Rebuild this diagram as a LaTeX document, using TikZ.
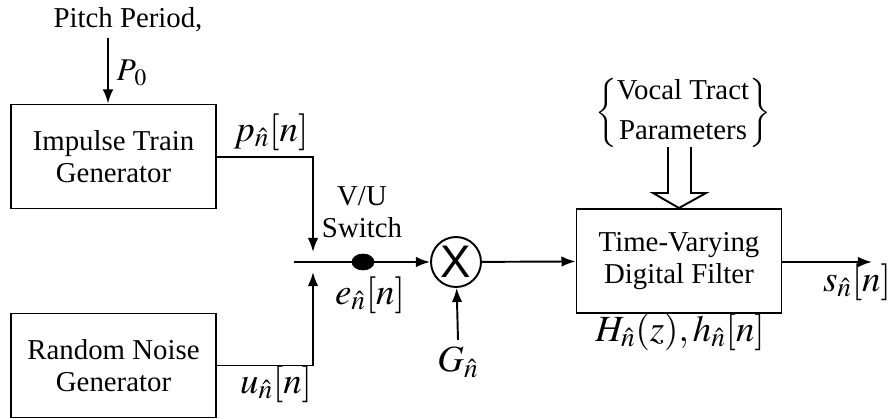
\documentclass[tikz,border=0pt]{standalone}
\usepackage{amsmath}
\usepackage{mathptmx}
\usepackage{fontspec}
\setmainfont{Liberation Serif}
\newfontfamily\sansX{Liberation Sans}
\usetikzlibrary{arrows.meta,shapes.geometric}

\begin{document}
\begin{tikzpicture}[x=0.02cm, y=-0.02cm, >={Latex[length=8pt,width=6pt]},
    every node/.style={font=\fontsize{16.4}{18}\selectfont},
    blockbox/.style={draw, line width=1.1pt, minimum width=4.1cm, minimum height=2.08cm, align=center},
    mathlbl/.style={font=\fontsize{21}{24}\selectfont, inner sep=1pt},
    sig/.style={line width=1.1pt, ->}]
  \useasboundingbox (0,0) rectangle (896,419);

  \node (pitch) at (128,20) {Pitch Period,};
  \node[blockbox] (itg) at (113.5,156.5) {Impulse Train\\Generator};
  \node[blockbox] (rng) at (113.5,365.5) {Random Noise\\Generator};
  \node[draw, line width=1.1pt, circle, minimum size=1cm, inner sep=0pt] (mult) at (456,262)
    {\sansX\fontsize{26}{26}\selectfont X};
  \node[blockbox] (filt) at (679,261) {Time-Varying\\Digital Filter};
  \node[draw, fill, ellipse, minimum width=0.44cm, minimum height=0.32cm, inner sep=0pt] (dot) at (363,262) {};
  \node (params) at (683,113)
    {$\left\{\begin{tabular}{@{}c@{}}Vocal Tract\\[5pt]Parameters\end{tabular}\right\}$};
  \node[mathlbl] (gain) at (458,362) {$G_{\hat{n}}$};

  \coordinate (swl) at (294,262);
  \coordinate (swtop) at (313,252);
  \coordinate (swbot) at (313,272);
  \coordinate (out) at (872,262);

  % excitation paths
  \draw[sig] (pitch.south -| 108,0) -- (itg.north -| 108,0);
  \draw[sig] (itg.east |- 0,157) -| (swtop);
  \draw[sig] (rng.east) -| (swbot);
  \draw[line width=1.1pt] (swl) -- (dot);
  \draw[sig] (dot) -- (mult);
  \draw[sig] (gain.north |- 0,340) -- (mult);
  \draw[sig] (mult) -- (filt);
  \draw[sig] (filt.east |- out) -- (out);

  % hollow arrow into the filter
  \draw[line width=1.1pt, line join=miter] (668,147) -- (668,193) -- (653,193) -- (filt.north)
    -- (706,193) -- (691,193) -- (691,147);

  \node[font=\fontsize{18}{20}\selectfont] at (132,73) {$P_{\,0}$};
  \node[mathlbl] at (271,132) {$p_{\hat{n}}[n]$};
  \node[mathlbl] at (276,384) {$u_{\hat{n}}[n]$};
  \node[mathlbl] at (370,295) {$e_{\hat{n}}[n]$};
  \node[align=center] at (362,212) {V/U\\Switch};
  \node[mathlbl] at (680,332) {$H_{\hat{n}}(z),h_{\hat{n}}[n]$};
  \node[mathlbl] at (857,282) {$s_{\hat{n}}[n]$};
\end{tikzpicture}
\end{document}
